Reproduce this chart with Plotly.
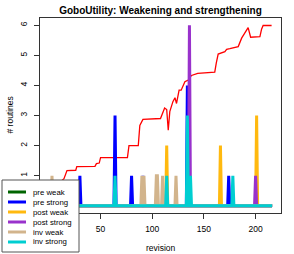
import plotly.graph_objects as go

# ---- data ----
revisions = list(range(1, 217))

routines_x = [1, 8, 14.6, 17.5, 26, 27, 44.6, 46, 48.7, 50, 76, 77.5, 86.5, 88, 91, 108, 112, 114,
              115.5, 117, 120, 122, 123.5, 126, 128, 131.6, 134.9, 138, 144, 160.5, 162, 163.8,
              170.3, 172, 175.1, 183.2, 186.5, 191.3, 192.8, 195.2, 204.2, 205.8, 207.3, 215.5]
routines_y = [0.55, 0.7, 0.9, 1.17, 1.18, 1.3, 1.31, 1.4, 1.42, 1.6, 1.6, 2.0, 2.0, 2.67, 2.87, 2.9, 3.25, 3.2,
              2.51, 3.13, 3.46, 3.59, 3.4, 3.84, 3.84, 4.12, 4.18, 4.33, 4.4, 4.44, 4.75, 5.04,
              5.12, 5.2, 5.22, 5.29, 5.57, 5.87, 5.92, 5.6, 5.62, 5.87, 5.99, 5.99]

series_names = ["pre weak", "pre strong", "post weak", "post strong", "inv weak", "inv strong"]
series_colors = ["#006400", "#0000FF", "#FFB90F", "#9932CC", "#D2B48C", "#00CED1"]

pre_weak_rev, pre_weak_val = [], []
pre_strong_rev, pre_strong_val = [30, 64, 80, 91, 134, 174], [1, 3, 1, 1, 4, 1]
post_weak_rev, post_weak_val = [114, 166, 201], [2, 2, 3]
post_strong_rev, post_strong_val = [136, 200], [6, 1]
inv_weak_rev, inv_weak_val = [3, 90, 92, 104, 105, 110, 123], [1, 1, 1, 1, 1, 1, 1]
inv_strong_rev, inv_strong_val = [64, 114, 134, 137, 178], [1, 1, 3, 1, 1]

spikes = [(pre_weak_rev, pre_weak_val), (pre_strong_rev, pre_strong_val),
          (post_weak_rev, post_weak_val), (post_strong_rev, post_strong_val),
          (inv_weak_rev, inv_weak_val), (inv_strong_rev, inv_strong_val)]

# the 0 ticks sit under the legend box in the reference, so they are not shown
x_ticks = [50, 100, 150, 200]
y_ticks = [1, 2, 3, 4, 5, 6]

# ---- figure ----
W, H = 294, 254
ML, MR, MT, MB = 40, 13, 18, 41
PW, PH = W - ML - MR, H - MT - MB


def px_x(p):
    return (p - ML) / PW


def px_y(p):
    return (H - MB - p) / PH


fig = go.Figure()
fig.add_trace(go.Scatter(x=routines_x, y=routines_y, mode="lines",
                         line=dict(color="red", width=1.3), showlegend=False))

for name, color, (revs, vals) in zip(series_names, series_colors, spikes):
    counts = {r: v for r, v in zip(revs, vals)}
    ys = [counts.get(r, 0) for r in revisions]
    fig.add_trace(go.Scatter(x=revisions, y=ys, mode="lines", name=name,
                             line=dict(color=color, width=3), showlegend=False))

font = "Liberation Sans, Arial, Helvetica, sans-serif"
axis_common = dict(showline=True, mirror=True, linecolor="#333", linewidth=1,
                   ticks="outside", ticklen=5, tickcolor="#333", showgrid=False,
                   zeroline=False, tickfont=dict(size=8.5, color="black", family=font))

fig.update_xaxes(range=[-8.6, 224.6], tickvals=x_ticks, ticklabelstandoff=3, **axis_common)
fig.update_yaxes(range=[-0.24, 6.24], tickvals=y_ticks, tickangle=-90, ticklabelstandoff=4, **axis_common)

shapes = []
annotations = []
# legend box (drawn by hand to match the compact R legend)
shapes.append(dict(type="rect", xref="paper", yref="paper", layer="above",
                   x0=px_x(2), x1=px_x(79), y0=px_y(252), y1=px_y(180),
                   fillcolor="white", line=dict(color="#555", width=1)))
for i, (name, color) in enumerate(zip(series_names, series_colors)):
    yy = px_y(192 + 10 * i)
    shapes.append(dict(type="line", xref="paper", yref="paper", layer="above",
                       x0=px_x(8), x1=px_x(26), y0=yy, y1=yy,
                       line=dict(color=color, width=3)))
    annotations.append(dict(text=name, xref="paper", yref="paper", x=px_x(32), y=yy,
                            xanchor="left", yanchor="middle", showarrow=False, borderpad=0,
                            font=dict(size=7.8, color="black", family=font)))

annotations.append(dict(text="revision", xref="paper", yref="paper", x=0.5, y=px_y(248),
                        xanchor="center", yanchor="middle", showarrow=False,
                        font=dict(size=8.5, color="black", family=font)))
annotations.append(dict(text="# routines", xref="paper", yref="paper", x=px_x(9), y=0.5,
                        xanchor="center", yanchor="middle", showarrow=False, textangle=-90,
                        font=dict(size=8.5, color="black", family=font)))

fig.update_layout(
    width=W, height=H,
    margin=dict(l=ML, r=MR, t=MT, b=MB, autoexpand=False),
    paper_bgcolor="white", plot_bgcolor="white",
    showlegend=False,
    title=dict(text="GoboUtility: Weakening and strengthening", x=px_x(160.5), xref="paper",
               xanchor="center", y=1 - 10 / H, yref="container", yanchor="middle",
               font=dict(size=10, color="black", family=font, weight="bold")),
    shapes=shapes, annotations=annotations,
)

fig.write_html("out.html", config={"displayModeBar": False},
               post_script="document.body.style.margin='0';document.body.style.padding='0';")
